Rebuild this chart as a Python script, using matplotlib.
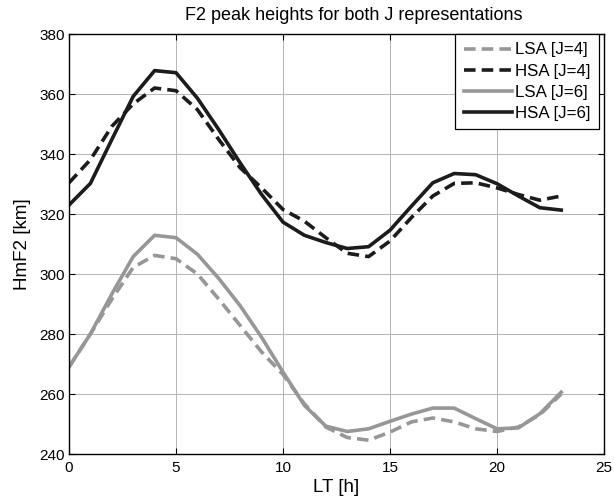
#!/usr/bin/env python3
"""F2 peak heights (hmF2) for the two J representations, LSA and HSA."""

import matplotlib
matplotlib.use('Agg')
import matplotlib.pyplot as plt

# local time, hourly
lt_hours = list(range(24))

# J=4 representation
lsa_j4 = [269, 280, 291.6, 302.2, 306.2, 305.1, 300, 291.6, 282.8, 274, 266.5, 256.7,
          249, 245.5, 244.6, 247.3, 250.7, 252, 250.7, 248.4, 247.5, 249, 253.1, 260]
hsa_j4 = [330.4, 338.1, 349.2, 356.7, 362, 361.1, 354.8, 344.8, 335.4, 328.7, 321.5, 317.6,
          312.1, 306.9, 305.8, 311, 318.8, 326, 330.2, 330.4, 328.7, 326.5, 324.6, 326]

# J=6 representation
lsa_j6 = [269, 280, 293.3, 305.8, 312.9, 312.1, 306.6, 298.5, 289.4, 278.9, 267.3, 256.2,
          249.3, 247.5, 248.4, 250.9, 253.3, 255.3, 255.3, 251.8, 248.4, 248.7, 253.4, 260.6]
hsa_j6 = [323, 330.2, 344.8, 359.2, 367.8, 367.1, 358.6, 348.1, 337, 326.5, 317.3, 312.9,
          310.5, 308.5, 309.1, 314.6, 322.6, 330.4, 333.5, 333.1, 330.1, 326, 322.1, 321.3]

series_labels = ['LSA [J=4]', 'HSA [J=4]', 'LSA [J=6]', 'HSA [J=6]']

x_ticks = [0, 5, 10, 15, 20, 25]
y_ticks = [240, 260, 280, 300, 320, 340, 360, 380]

GRAY = '#979797'
BLACK = '#1c1c1c'

plt.rcParams['font.family'] = ['Liberation Sans', 'DejaVu Sans']

fig = plt.figure(figsize=(6.14, 5.0), dpi=100)
ax = fig.add_axes([69 / 614, 1 - 454 / 500, 535 / 614, 420 / 500])

dash = (3.2, 1.7)
ax.plot(lt_hours, lsa_j4, color=GRAY, lw=2.6, dashes=dash, label=series_labels[0])
ax.plot(lt_hours, hsa_j4, color=BLACK, lw=2.6, dashes=dash, label=series_labels[1])
ax.plot(lt_hours, lsa_j6, color=GRAY, lw=2.6, label=series_labels[2])
ax.plot(lt_hours, hsa_j6, color=BLACK, lw=2.6, label=series_labels[3])

ax.set_xlim(0, 25)
ax.set_ylim(240, 380)
ax.set_xticks(x_ticks)
ax.set_yticks(y_ticks)
ax.tick_params(direction='in', top=True, right=True, length=4, width=0.8,
               labelsize=11, pad=3)
ax.tick_params(axis='x', pad=5)
ax.grid(True, color='#b4b4b4', lw=0.7)
ax.set_axisbelow(True)
for sp in ax.spines.values():
    sp.set_linewidth(1.0)
    sp.set_color('black')

ax.set_xlabel('LT [h]', fontsize=13.5, labelpad=3)
ax.set_ylabel('HmF2 [km]', fontsize=13.5, labelpad=6)
ax.set_title('F2 peak heights for both J representations', fontsize=13,
             x=0.533, pad=10)

leg = ax.legend(loc='upper right', bbox_to_anchor=(0.99, 1.0), borderaxespad=0,
                fontsize=12.2, handlelength=2.85, handletextpad=0.15,
                labelspacing=0.36, borderpad=0.5, fancybox=False,
                framealpha=1, edgecolor='black')
leg.get_frame().set_linewidth(0.9)

fig.savefig('out.png', dpi=100, facecolor='white')
